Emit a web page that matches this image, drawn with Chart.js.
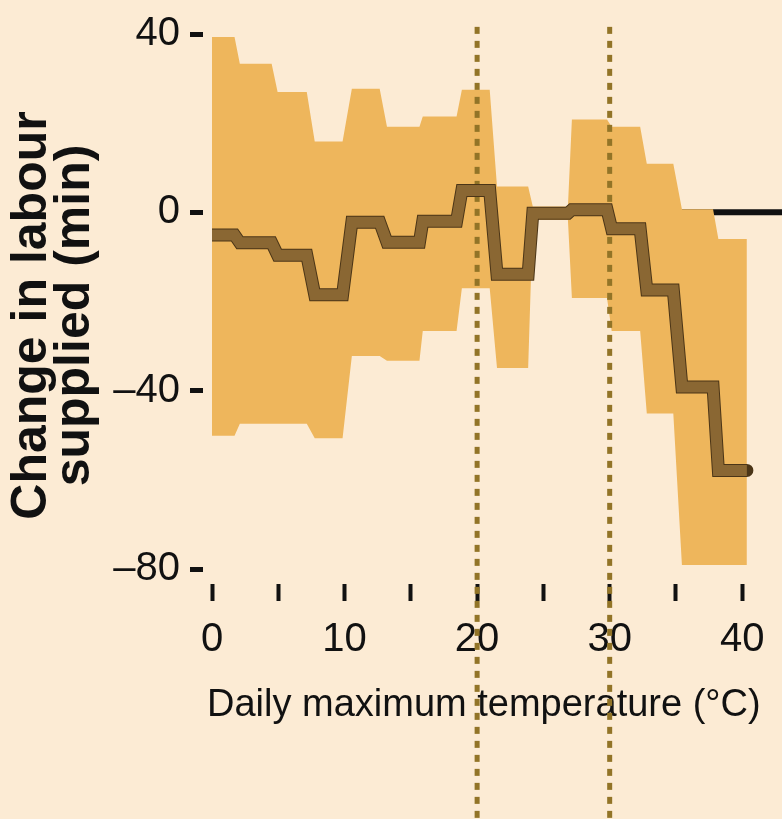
<!DOCTYPE html>
<html><head><meta charset="utf-8">
<script src="https://cdn.jsdelivr.net/npm/chart.js@4.4.1/dist/chart.umd.min.js"></script>
<style>html,body{margin:0;padding:0;background:#fcebd4;}canvas{display:block;}</style>
</head><body>
<canvas id="c" width="782" height="819"></canvas>
<script>
// ---- data ----
const binStart = [0.0, 2.1, 4.95, 7.75, 10.55, 13.2, 15.9, 18.85, 21.5, 24.2, 27.15, 30.15, 32.8, 35.45, 38.2];
const binEnd   = [1.7, 4.5, 7.15, 9.85, 12.65, 15.65, 18.45, 20.95, 23.85, 26.85, 29.8, 32.3, 34.8, 37.8, 40.35];
const estimate = [-5.1, -6.8, -9.6, -18.5, -2.2, -6.7, -2.0, 4.9, -13.9, -0.2, 0.6, -3.7, -17.4, -39.2, -57.9];
const upperCI  = [39.3, 33.3, 27.0, 15.9, 27.7, 19.2, 21.5, 27.5, 5.8, 1.3, 20.8, 19.2, 10.9, 0.7, -6.0];
const lowerCI  = [-50.1, -47.4, -47.4, -50.7, -32.2, -33.3, -26.6, -17.0, -34.9, -1.7, -19.2, -26.6, -45.1, -79.1, -79.1];
const xTickValues = [0, 5, 10, 15, 20, 25, 30, 35, 40];
const yTickValues = [40, 0, -40, -80];
const refTemps = [20, 30];
const xTitle = 'Daily maximum temperature (°C)';
const yTitle = ['Change in labour', 'supplied (min)'];

// ---- styles ----
const BG = '#fcebd4', BAND = '#eeb65c', LINE = '#8a6733', EDGE = '#4b3517', REF = '#927427', INK = '#111111';

function steps(vals) {
  const pts = [];
  vals.forEach((v, i) => { pts.push({x: binStart[i], y: v}); pts.push({x: binEnd[i], y: v}); });
  return pts;
}

// font selection (condensed if available)
const mctx = document.createElement('canvas').getContext('2d');
function w(font, txt) { mctx.font = font; return mctx.measureText(txt).width; }
const probe = 'abcdefghiABC 0123';
const hasNarrow = w('72px "Liberation Sans Narrow", monospace', probe) !== w('72px monospace', probe);
const COND = hasNarrow ? '"Liberation Sans Narrow", "Liberation Sans", Arial, sans-serif' : '"Liberation Sans", Arial, sans-serif';
const BOLD = '"Liberation Sans", Arial, sans-serif';
const tickSize = Math.round(67 / w('100px ' + COND, '\u201340') * 100);
const xTitleSize = Math.round(549 / w('100px ' + COND, xTitle) * 100);

const refSets = refTemps.map((t, k) => ({
  label: 'ref' + t, data: [{x: t, y: 41.6}, {x: t, y: -137}],
  borderColor: REF, borderWidth: 5, borderDash: [7, 7], clip: false, fill: false, order: 3 + k
}));

// title anchoring nudges (applied only while axis layers are drawn)
const Y_TITLE_SHIFT = 14, X_TITLE_SHIFT = -5;

new Chart(document.getElementById('c'), {
  type: 'line',
  data: {
    datasets: [
      {label: 'estimate', data: steps(estimate), borderColor: LINE, borderWidth: 11, fill: false, order: 1, borderJoinStyle: 'miter'},
      {label: 'estimate-edge', data: steps(estimate), borderColor: EDGE, borderWidth: 13, fill: false, order: 2, borderCapStyle: 'round'},
      ...refSets,
      {label: 'upper', data: steps(upperCI), borderColor: 'rgba(0,0,0,0)', borderWidth: 1, backgroundColor: BAND, fill: '+1', order: 6},
      {label: 'lower', data: steps(lowerCI), borderColor: 'rgba(0,0,0,0)', borderWidth: 1, fill: false, order: 7},
      {label: 'zero', data: [{x: 0, y: 0}, {x: 43, y: 0}], borderColor: INK, borderWidth: 6, fill: false, order: 8}
    ]
  },
  options: {
    responsive: false, animation: false,
    layout: {padding: {top: 32, left: 0, right: 0, bottom: 0}},
    elements: {point: {radius: 0, hoverRadius: 0}, line: {tension: 0}},
    plugins: {legend: {display: false}, tooltip: {enabled: false}},
    events: [],
    scales: {
      x: {
        type: 'linear', min: 0, max: 43,
        afterBuildTicks: s => { s.ticks = xTickValues.map(v => ({value: v})); },
        afterFit: s => { s.height = 250; },
        border: {display: false},
        grid: {drawOnChartArea: false, drawTicks: true, tickLength: 32, tickWidth: 4, tickColor: INK, tickBorderDash: [17, 15], tickBorderDashOffset: 17},
        ticks: {autoSkip: false, maxRotation: 0, padding: 15, color: INK, font: {family: COND, size: tickSize},
                callback: v => (v % 10 === 0 ? String(v) : '')},
        title: {display: true, text: xTitle, color: INK, align: 'start', font: {family: COND, size: xTitleSize}, padding: {top: 0, bottom: 91}}
      },
      y: {
        type: 'linear', min: -80, max: 40,
        afterBuildTicks: s => { s.ticks = yTickValues.map(v => ({value: v})); },
        afterFit: s => { s.width = 212; },
        border: {display: false},
        grid: {drawOnChartArea: false, drawTicks: true, tickLength: 22, tickWidth: 5, tickColor: INK, tickBorderDash: [13, 9], tickBorderDashOffset: 0},
        ticks: {padding: 10, color: INK, font: {family: COND, size: tickSize},
                callback: v => (v < 0 ? '\u2013' + Math.abs(v) : String(v))},
        title: {display: true, text: yTitle, color: INK, font: {family: BOLD, weight: 'bold', size: 50, lineHeight: 0.86}, padding: {top: 11, bottom: 0}}
      }
    }
  },
  plugins: [
    {id: 'bg', beforeDraw(c) { const ctx = c.ctx; ctx.save(); ctx.fillStyle = BG; ctx.fillRect(0, 0, c.width, c.height); ctx.restore(); }},
    {id: 'titleNudge',
      beforeDraw(c) {
        const y = c.scales.y, x = c.scales.x;
        y.top += Y_TITLE_SHIFT; y.bottom += Y_TITLE_SHIFT; x.left += X_TITLE_SHIFT;
      },
      beforeDatasetsDraw(c) {
        const y = c.scales.y, x = c.scales.x;
        y.top -= Y_TITLE_SHIFT; y.bottom -= Y_TITLE_SHIFT; x.left -= X_TITLE_SHIFT;
      }
    }
  ]
});
</script>
</body></html>
